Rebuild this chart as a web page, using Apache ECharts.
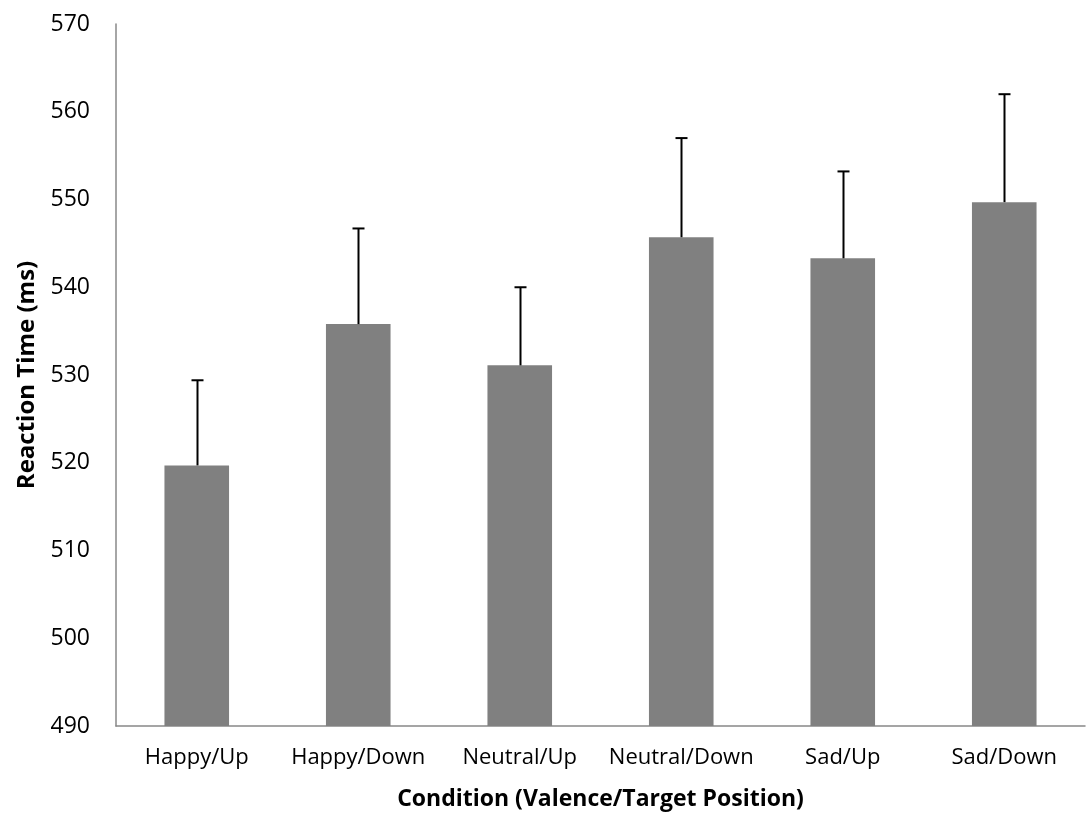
<!DOCTYPE html>
<html><head><meta charset="utf-8">
<script src="https://cdn.jsdelivr.net/npm/echarts@6/dist/echarts.min.js"></script>
<style>html,body{margin:0;padding:0;background:#fff}#c{width:1086px;height:818px}</style>
</head><body><div id="c"></div>
<script>
const categories = ['Happy/Up','Happy/Down','Neutral/Up','Neutral/Down','Sad/Up','Sad/Down'];
const means = [519.7, 535.8, 531.1, 545.7, 543.3, 549.7];
const errorTops = [529.4, 546.7, 540.0, 557.0, 553.2, 562.0];
const yTicks = {min: 490, max: 570, interval: 10};

const chart = echarts.init(document.getElementById('c'));
const font = '"Open Sans", "Noto Sans", sans-serif';
chart.setOption({
  animation: false,
  grid: {left: 116, right: 1, top: 24, bottom: 92, containLabel: false},
  xAxis: {
    type: 'category', data: categories,
    name: 'Condition (Valence/Target Position)', nameLocation: 'middle', nameGap: 62,
    nameTextStyle: {fontFamily: font, fontWeight: 'bold', fontSize: 23, color: '#000'},
    axisLine: {lineStyle: {color: '#888', width: 1.5}},
    axisTick: {show: false},
    axisLabel: {fontFamily: font, fontSize: 22, color: '#000', margin: 21, interval: 0, hideOverlap: false}
  },
  yAxis: {
    type: 'value', min: yTicks.min, max: yTicks.max, interval: yTicks.interval,
    name: 'Reaction Time (ms)', nameLocation: 'middle', nameGap: 74, nameRotate: 90,
    nameTextStyle: {fontFamily: font, fontWeight: 'bold', fontSize: 24, color: '#000'},
    axisLine: {show: true, lineStyle: {color: '#888', width: 1.5}},
    axisTick: {show: false},
    splitLine: {show: false},
    axisLabel: {fontFamily: font, fontSize: 23, color: '#000', margin: 26}
  },
  series: [
    {type: 'bar', data: means, barWidth: '40%', itemStyle: {color: '#808080'}},
    {
      type: 'custom', z: 5,
      data: categories.map((c, i) => [i, means[i], errorTops[i]]),
      renderItem: function (params, api) {
        const base = api.coord([api.value(0), api.value(1)]);
        const top = api.coord([api.value(0), api.value(2)]);
        const x = Math.round(base[0]) + 0.5;
        const hw = 6;
        return {
          type: 'group',
          children: [
            {type: 'line', shape: {x1: x, y1: base[1], x2: x, y2: top[1]}, style: {stroke: '#000', lineWidth: 2}},
            {type: 'line', shape: {x1: x - hw, y1: top[1], x2: x + hw, y2: top[1]}, style: {stroke: '#000', lineWidth: 2}}
          ]
        };
      }
    }
  ]
});
</script></body></html>
